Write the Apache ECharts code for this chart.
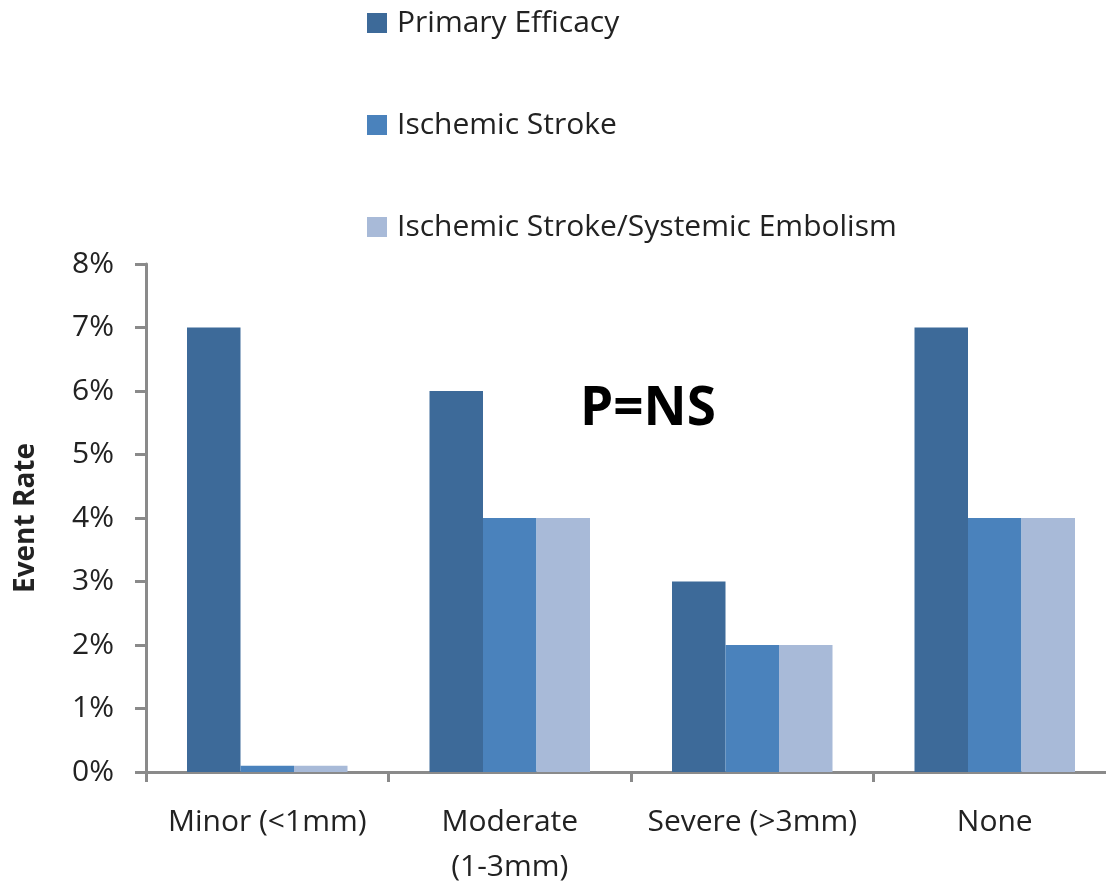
<!DOCTYPE html>
<html>
<head>
<meta charset="utf-8">
<script src="https://cdn.jsdelivr.net/npm/echarts@6/dist/echarts.min.js"></script>
<style>html,body{margin:0;padding:0;background:#fff;overflow:hidden;width:1106px;height:890px;}#wrap{width:1106px;height:890px;overflow:hidden;position:relative;}#c{position:absolute;left:0;top:0;width:1116px;height:890px;}</style>
</head>
<body>
<div id="wrap"><div id="c"></div></div>
<script>
const categories = ['Minor (<1mm)', 'Moderate\n(1-3mm)', 'Severe (>3mm)', 'None'];
const seriesNames = ['Primary Efficacy', 'Ischemic Stroke', 'Ischemic Stroke/Systemic Embolism'];
const primaryEfficacy = [7, 6, 3, 7];
const ischemicStroke = [0.1, 4, 2, 4];
const strokeEmbolism = [0.1, 4, 2, 4];
const yTicks = [0, 1, 2, 3, 4, 5, 6, 7, 8];
const colors = ['#3D6A99', '#4A82BC', '#A8BAD8'];

const chart = echarts.init(document.getElementById('c'));
const font = 'Open Sans';
const seriesData = [primaryEfficacy, ischemicStroke, strokeEmbolism];
chart.setOption({
  animation: false,
  backgroundColor: '#fff',
  textStyle: { fontFamily: font },
  legend: {
    orient: 'vertical',
    left: 362,
    top: -2,
    itemWidth: 20,
    itemHeight: 20,
    itemGap: 62,
    icon: 'rect',
    data: seriesNames,
    textStyle: { fontFamily: font, fontSize: 30, lineHeight: 40, color: '#222', padding: [0, 0, 0, 5] }
  },
  grid: { left: 146, top: 264, bottom: 112, right: 0, containLabel: false },
  xAxis: {
    type: 'category',
    data: categories,
    axisLine: { lineStyle: { color: '#8a8a8a', width: 3 } },
    axisTick: { show: true, length: 10, lineStyle: { color: '#8a8a8a', width: 3 } },
    axisLabel: { fontFamily: font, fontSize: 30, color: '#222', margin: 28, lineHeight: 45, interval: 0 }
  },
  yAxis: {
    type: 'value',
    min: 0, max: 8, interval: 1,
    name: 'Event Rate',
    nameLocation: 'middle',
    nameGap: 106,
    nameRotate: 90,
    nameTextStyle: { fontFamily: font, fontSize: 28, fontWeight: 'bold', color: '#222' },
    axisLine: { show: true, lineStyle: { color: '#8a8a8a', width: 3 } },
    axisTick: { show: true, length: 11, lineStyle: { color: '#8a8a8a', width: 3 } },
    splitLine: { show: false },
    axisLabel: { fontFamily: font, fontSize: 30, color: '#222', margin: 32, formatter: v => v + '%' }
  },
  series: seriesNames.map((n, i) => ({
    name: n,
    type: 'bar',
    data: seriesData[i],
    barWidth: 53.5,
    barGap: '0%',
    itemStyle: { color: colors[i] }
  })),
  graphic: [{
    type: 'text',
    left: 580,
    top: 383,
    style: { text: 'P=NS', fontFamily: font, fontSize: 53, fontWeight: 'bold', fill: '#000' }
  }]
});
</script>
</body>
</html>
